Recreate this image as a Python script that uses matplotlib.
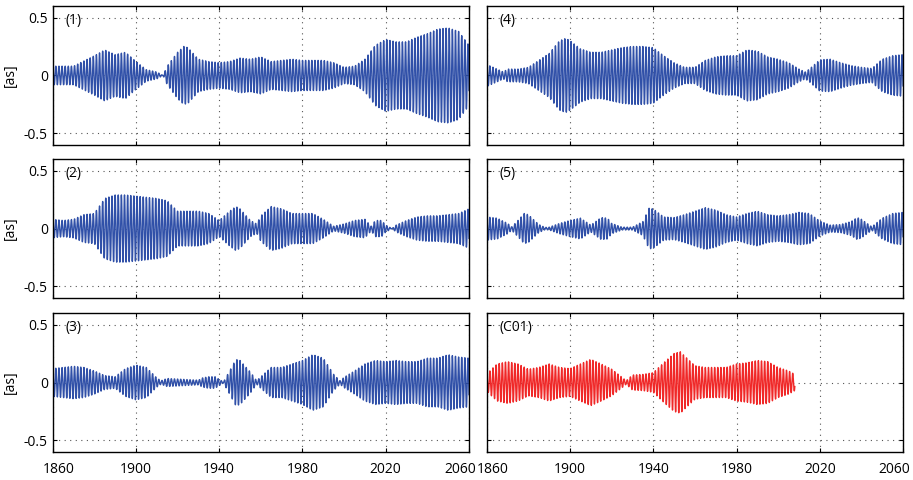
import numpy as np
import matplotlib
matplotlib.use('Agg')
import matplotlib.pyplot as plt
from matplotlib.transforms import ScaledTranslation

plt.rcParams['font.family'] = ['Open Sans', 'DejaVu Sans']

# envelope of each component (year, amplitude in as)
p1_years = [1860, 1870, 1875, 1880, 1885, 1890, 1895, 1900, 1905, 1910, 1913, 1915, 1920, 1923,
            1925, 1930, 1935, 1940, 1945, 1950, 1955, 1960, 1965, 1970, 1975, 1980, 1985, 1990,
            1995, 2000, 2005, 2010, 2015, 2020, 2025, 2030, 2035, 2040, 2045, 2050, 2055, 2060]
p1_amps = [0.08, 0.08, 0.125, 0.17, 0.22, 0.18, 0.20, 0.12, 0.05, 0.03, 0.0, 0.08, 0.20, 0.25,
           0.24, 0.14, 0.12, 0.11, 0.12, 0.15, 0.14, 0.16, 0.12, 0.13, 0.14, 0.13, 0.13, 0.13,
           0.11, 0.07, 0.08, 0.14, 0.26, 0.31, 0.29, 0.29, 0.33, 0.36, 0.40, 0.41, 0.38, 0.26]

p2_years = [1860, 1865, 1870, 1875, 1880, 1885, 1890, 1895, 1900, 1905, 1910, 1915, 1920, 1925,
            1930, 1935, 1940, 1945, 1948, 1950, 1955, 1958, 1960, 1965, 1970, 1975, 1980, 1985,
            1990, 1995, 2000, 2005, 2010, 2013, 2015, 2018, 2020, 2023, 2025, 2030, 2035, 2040,
            2045, 2050, 2055, 2060]
p2_amps = [0.08, 0.07, 0.08, 0.12, 0.13, 0.26, 0.29, 0.29, 0.28, 0.27, 0.26, 0.24, 0.15, 0.15,
           0.15, 0.13, 0.07, 0.15, 0.19, 0.17, 0.07, 0.04, 0.11, 0.19, 0.17, 0.13, 0.13, 0.13,
           0.08, 0.02, 0.04, 0.07, 0.08, 0.02, 0.07, 0.07, 0.03, 0.0, 0.03, 0.07, 0.10, 0.11,
           0.11, 0.12, 0.13, 0.17]

p3_years = [1860, 1865, 1870, 1875, 1880, 1885, 1890, 1895, 1900, 1905, 1910, 1912, 1915, 1920,
            1925, 1930, 1932, 1935, 1938, 1942, 1945, 1948, 1950, 1955, 1958, 1960, 1965, 1970,
            1975, 1980, 1985, 1990, 1995, 1998, 2000, 2005, 2010, 2015, 2020, 2025, 2030, 2035,
            2040, 2045, 2050, 2055, 2060]
p3_amps = [0.12, 0.13, 0.14, 0.13, 0.10, 0.06, 0.05, 0.12, 0.15, 0.13, 0.04, 0.015, 0.035, 0.03,
           0.025, 0.02, 0.04, 0.05, 0.05, 0.005, 0.10, 0.20, 0.19, 0.09, 0.015, 0.05, 0.13, 0.13,
           0.16, 0.19, 0.24, 0.21, 0.07, 0.015, 0.045, 0.10, 0.16, 0.19, 0.18, 0.19, 0.18, 0.18,
           0.21, 0.21, 0.24, 0.22, 0.21]

p4_years = [1860, 1865, 1868, 1870, 1875, 1880, 1885, 1890, 1895, 1898, 1900, 1905, 1910, 1915,
            1920, 1925, 1930, 1935, 1940, 1945, 1950, 1955, 1960, 1965, 1970, 1975, 1980, 1985,
            1990, 1995, 2000, 2005, 2010, 2013, 2015, 2020, 2025, 2030, 2035, 2040, 2045, 2050,
            2055, 2060]
p4_amps = [0.095, 0.055, 0.03, 0.055, 0.055, 0.07, 0.13, 0.19, 0.30, 0.32, 0.30, 0.23, 0.20, 0.20,
           0.22, 0.24, 0.25, 0.25, 0.24, 0.17, 0.11, 0.07, 0.07, 0.13, 0.16, 0.17, 0.17, 0.22,
           0.21, 0.16, 0.14, 0.11, 0.055, 0.03, 0.055, 0.135, 0.14, 0.11, 0.085, 0.07, 0.06, 0.14,
           0.17, 0.18]

p5_years = [1860, 1865, 1870, 1872, 1875, 1878, 1880, 1885, 1888, 1890, 1895, 1900, 1905, 1910,
            1915, 1918, 1920, 1925, 1930, 1935, 1938, 1940, 1945, 1950, 1955, 1960, 1965, 1970,
            1975, 1980, 1985, 1990, 1995, 2000, 2005, 2010, 2015, 2020, 2025, 2030, 2035, 2038,
            2040, 2045, 2050, 2055, 2060]
p5_amps = [0.10, 0.09, 0.045, 0.015, 0.07, 0.13, 0.12, 0.035, 0.01, 0.012, 0.045, 0.07, 0.09, 0.03,
           0.095, 0.09, 0.045, 0.012, 0.012, 0.06, 0.175, 0.17, 0.10, 0.095, 0.12, 0.15, 0.18, 0.16,
           0.12, 0.10, 0.13, 0.15, 0.12, 0.11, 0.12, 0.14, 0.13, 0.065, 0.03, 0.035, 0.06, 0.095,
           0.08, 0.015, 0.09, 0.13, 0.14]

c01_years = [1860, 1862, 1865, 1870, 1875, 1880, 1885, 1890, 1895, 1900, 1905, 1910, 1915, 1920,
             1925, 1927, 1930, 1935, 1940, 1945, 1950, 1953, 1955, 1960, 1965, 1970, 1975, 1980,
             1985, 1990, 1995, 2000, 2005, 2008]
c01_amps = [0.07, 0.11, 0.16, 0.18, 0.16, 0.115, 0.13, 0.16, 0.13, 0.12, 0.16, 0.20, 0.16, 0.115,
            0.045, 0.015, 0.065, 0.07, 0.085, 0.17, 0.25, 0.265, 0.23, 0.145, 0.13, 0.13, 0.13, 0.16,
            0.17, 0.19, 0.18, 0.13, 0.10, 0.07]

period = 1.5  # apparent oscillation period, years
xticks = [1860, 1900, 1940, 1980, 2020, 2060]
yticks = [-0.5, 0, 0.5]

panels = [
    ('(1)', p1_years, p1_amps, '#3050a8'),
    ('(2)', p2_years, p2_amps, '#3050a8'),
    ('(3)', p3_years, p3_amps, '#3050a8'),
    ('(4)', p4_years, p4_amps, '#3050a8'),
    ('(5)', p5_years, p5_amps, '#3050a8'),
    ('(C01)', c01_years, c01_amps, '#f02828'),
]

fig = plt.figure(figsize=(9.13, 4.80), dpi=100)

lefts = [0.0577, 0.5331]
bottoms = [0.698, 0.379, 0.0583]
w, h = 0.456, 0.2896

for i, (name, yrs, amps, col) in enumerate(panels):
    c, r = divmod(i, 3)
    ax = fig.add_axes([lefts[c], bottoms[r], w, h])
    t = np.arange(yrs[0], yrs[-1] + 0.001, 0.02)
    env = np.interp(t, yrs, amps)
    ax.plot(t, env * np.cos(2 * np.pi * (t - 1860) / period), color=col, lw=1.0)

    ax.set_xlim(1860, 2060)
    ax.set_ylim(-0.6, 0.6)
    ax.set_xticks(xticks)
    ax.set_yticks(yticks)
    ax.grid(True, color='#555555', linestyle=(0, (1, 4)), linewidth=0.8)
    ax.set_axisbelow(True)
    ax.tick_params(direction='in', top=True, right=True, length=3, labelsize=10)
    for s in ax.spines.values():
        s.set_linewidth(1.0)
    ax.text(0.03, 0.87, name, transform=ax.transAxes, fontsize=10)

    if c == 0:
        ax.set_yticklabels(['-0.5', '0', '0.5'])
        ax.set_ylabel('[as]', fontsize=10, labelpad=4)
    else:
        ax.set_yticklabels([])
    if r == 2:
        ax.set_xticklabels([str(x) for x in xticks])
        ax.tick_params(axis='x', pad=7)
        labs = ax.get_xticklabels()
        labs[0].set_transform(labs[0].get_transform() + ScaledTranslation(6 / 100, 0, fig.dpi_scale_trans))
        labs[-1].set_transform(labs[-1].get_transform() + ScaledTranslation(-9 / 100, 0, fig.dpi_scale_trans))
    else:
        ax.set_xticklabels([])

fig.savefig('out.png', dpi=100)
